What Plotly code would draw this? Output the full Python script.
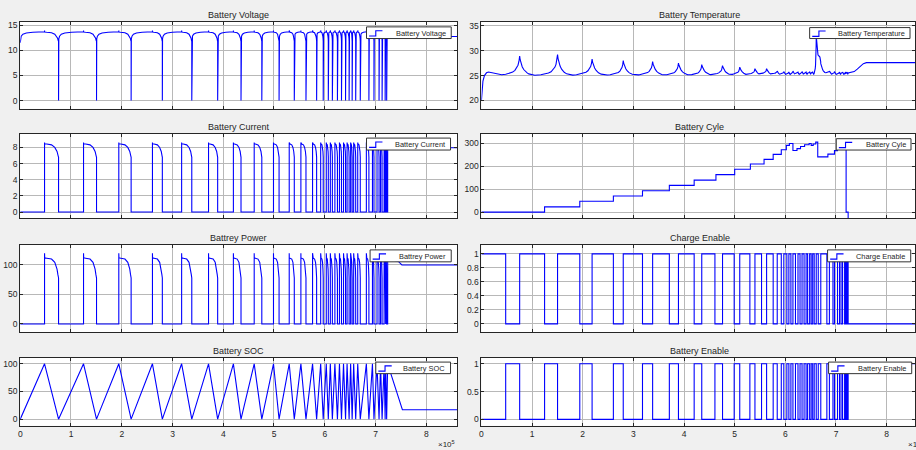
import numpy as np
import plotly.graph_objects as go

W, H = 916, 450

# ---------------- data (time axis in units of 1e5) ----------------
# Charge Enable switching instants; first edge = charge->discharge, then alternating
switch_t = [0.479, 0.755, 1.247, 1.503, 1.942, 2.185, 2.605, 2.80, 3.18, 3.38, 3.71, 3.89,
            4.20, 4.35, 4.61, 4.76, 4.99, 5.10, 5.30, 5.40, 5.53, 5.63, 5.76, 5.84,
            5.92, 5.97, 6.03, 6.07, 6.11, 6.15, 6.20, 6.25, 6.29, 6.33, 6.37, 6.41,
            6.44, 6.48, 6.51, 6.54, 6.57, 6.61, 6.65, 6.70, 6.82, 6.87, 6.94, 6.97,
            7.03, 7.07, 7.10, 7.13, 7.17, 7.19, 7.20, 7.22, 7.24]
t_end = 8.7

# discharge pulse shape of current (fraction of pulse -> A)
cur_frac = [0, 0.01, 0.16, 0.5, 0.73, 0.89, 0.98, 1.0]
cur_val = [8.6, 8.45, 8.42, 8.32, 8.0, 7.5, 6.9, 6.8]
cur_tail_t = [7.26, 7.5, t_end]
cur_tail_v = [8.4, 8.0, 7.95]

# discharge pulse shape of power
pow_frac = [0, 0.01, 0.16, 0.5, 0.73, 0.89, 0.95, 1.0]
pow_val = [120, 112, 111.5, 110, 104.5, 93, 84, 78]
pow_tail_t = [7.26, 7.45, 7.52, t_end]
pow_tail_v = [110, 106, 100, 100]

# voltage shape during charge / discharge
vch_frac = [0, 0.01, 0.04, 0.11, 0.25, 0.52, 1.0]
vch_val = [11.8, 12.3, 12.8, 13.2, 13.45, 13.6, 13.7]
vdis_frac = [0, 0.01, 0.15, 0.5, 0.73, 0.84, 0.93, 0.98, 1.0]
vdis_val = [13.95, 13.65, 13.6, 13.5, 13.2, 12.8, 12.4, 11.9, 11.8]
v_start = 11.5
v_tail_t = [7.26, 7.35, 7.45, 7.52, t_end]
v_tail_v = [13.6, 13.3, 12.9, 12.75, 12.75]

# SOC tail after last switch
soc_tail_t = [7.53, t_end]
soc_tail_v = [17, 17]

# temperature: peak at the end of every discharge
temp_peaks = [28.9, 29.2, 28.3, 28.0, 27.8, 27.5, 27.2, 27.0, 26.7, 26.4, 26.4, 25.9,
              25.8, 25.7, 25.9, 25.7, 25.8, 25.7, 25.8, 25.7, 33.0, 27.4, 25.9, 25.8,
              25.7, 25.7, 25.7, 25.7]
temp_start_t = [0, 0.015, 0.03, 0.06, 0.1, 0.14, 0.2, 0.3, 0.4]
temp_start_v = [20.0, 22.5, 23.9, 25.0, 25.55, 25.7, 25.6, 25.3, 25.15]
temp_base_frac = [0, 0.3, 0.6, 0.85, 1.0]
temp_base_val = [25.4, 25.15, 25.05, 25.15, 25.3]
temp_decay_dt = [0, 0.01, 0.025, 0.05, 0.08, 0.12, 0.18, 0.3]
temp_decay_frac = [1, 0.8, 0.6, 0.42, 0.27, 0.15, 0.06, 0]
temp_rise_t = [0, 0.3, 0.5, 0.66, 0.8, 0.88, 0.95, 1.0]
temp_rise_frac = [0, 0.05, 0.12, 0.22, 0.36, 0.5, 0.72, 1.0]
temp_tail_t = [7.30, 7.36, 7.42, 7.48, 7.54, 7.6, t_end]
temp_tail_v = [25.6, 25.8, 26.3, 26.9, 27.4, 27.6, 27.6]

# battery cycle count (step)
cycle_t = [0, 1.247, 1.942, 2.605, 3.18, 3.71, 4.20, 4.63, 5.0, 5.31, 5.58, 5.76, 5.92,
           6.02, 6.08, 6.15, 6.23, 6.30, 6.38, 6.47, 6.51, 6.55, 6.60, 6.64, 6.84, 6.97,
           7.03, 7.20, 7.24, t_end]
cycle_v = [0, 23, 47, 70, 93, 116, 139, 163, 186, 209, 229, 251, 271, 290, 298, 268,
           276, 285, 293, 298, 290, 296, 304, 240, 252, 267, 278, 0, -80, -80]

# ---------------- build series ----------------
off_t = switch_t[0::2]   # discharge starts
on_t = switch_t[1::2]    # discharge ends
n_off = len(off_t)

# enables
ce_x = [0] + switch_t + [t_end]
ce_y = [1] + [0 if i % 2 == 0 else 1 for i in range(len(switch_t))] + [0]
be_y = [1 - v for v in ce_y]

# SOC
soc_x = [0] + switch_t + soc_tail_t
soc_y = [0] + [100 if i % 2 == 0 else 0 for i in range(len(switch_t))] + soc_tail_v


def pulse_series(frac, vals, tail_t, tail_v):
    xs, ys = [0.0], [0.0]
    for k in range(n_off):
        a = off_t[k]
        xs.append(a); ys.append(0.0)
        if k < len(on_t):
            b = on_t[k]
            for f, v in zip(frac, vals):
                xs.append(a + f * (b - a)); ys.append(v)
            xs.append(b); ys.append(0.0)
        else:
            xs.append(a); ys.append(vals[0])
            xs += tail_t; ys += tail_v
    return xs, ys


cur_x, cur_y = pulse_series(cur_frac, cur_val, cur_tail_t, cur_tail_v)
pow_x, pow_y = pulse_series(pow_frac, pow_val, pow_tail_t, pow_tail_v)

# voltage
vx, vy = [], []
for k in range(n_off):
    c0 = 0.0 if k == 0 else on_t[k - 1]
    c1 = off_t[k]
    if k > 0:
        vx.append(c0); vy.append(0.0)
    for j, (f, v) in enumerate(zip(vch_frac, vch_val)):
        vx.append(c0 + f * (c1 - c0))
        vy.append(v_start if (k == 0 and j == 0) else v)
    if k < len(on_t):
        d1 = on_t[k]
        for f, v in zip(vdis_frac, vdis_val):
            vx.append(c1 + f * (d1 - c1)); vy.append(v)
    else:
        vx.append(c1); vy.append(vdis_val[0])
        vx += v_tail_t; vy += v_tail_v

# temperature
tx, ty = list(temp_start_t), list(temp_start_v)
t_prev = temp_start_v[-1]
for k in range(n_off):
    c1 = off_t[k]
    if k > 0:
        c0 = on_t[k - 1]
        p = temp_peaks[k - 1]
        knots = sorted(set([c0 + f * (c1 - c0) for f in temp_base_frac] +
                           [c0 + d for d in temp_decay_dt if d < c1 - c0]))
        for t in knots:
            f = (t - c0) / (c1 - c0)
            base = np.interp(f, temp_base_frac, temp_base_val)
            exc = (p - temp_base_val[0]) * np.interp(t - c0, temp_decay_dt, temp_decay_frac)
            tx.append(t); ty.append(float(base + exc))
        t_prev = ty[-1]
    else:
        tx.append(c1); ty.append(25.25); t_prev = 25.25
    if k < len(on_t):
        d1 = on_t[k]
        p = temp_peaks[k]
        for f, r in zip(temp_rise_t, temp_rise_frac):
            tx.append(c1 + f * (d1 - c1)); ty.append(t_prev + (p - t_prev) * r)
    else:
        tx += temp_tail_t; ty += temp_tail_v

# ---------------- figure ----------------
cols = [(18.3, 456.7, 8.61), (481.0, 916.0, 8.56)]
rows = [(20.0, 107.3), (132.3, 217.3), (244.0, 331.7), (357.3, 425.7)]

panels = [
    ("Battery Voltage", vx, vy, "linear", [-1.65, 15.65], [0, 5, 10, 15], (365.7, 450.7, 25.0, 36.7)),
    ("Battery Temperature", tx, ty, "linear", [18.3, 35.8], [20, 25, 30, 35], (810.3, 911.0, 25.7, 36.7)),
    ("Battery Current", cur_x, cur_y, "linear", [-0.78, 9.7], [0, 2, 4, 6, 8], (365.7, 450.0, 136.7, 148.7)),
    ("Battery Cyle", cycle_t, cycle_v, "hv", [-27, 340.7], [0, 100, 200, 300], (837.0, 912.0, 137.3, 148.7)),
    ("Battrey Power", pow_x, pow_y, "linear", [-14, 134], [0, 50, 100], (369.3, 450.7, 249.0, 261.0)),
    ("Charge Enable", ce_x, ce_y, "hv", [-0.12, 1.128], [0, 0.2, 0.4, 0.6, 0.8, 1], (828.3, 911.7, 249.0, 261.0)),
    ("Battery SOC", soc_x, soc_y, "linear", [-12, 111], [0, 50, 100], (375.0, 450.0, 361.7, 373.3)),
    ("Battery Enable", ce_x, be_y, "hv", [-0.115, 1.11], [0, 0.5, 1], (829.3, 912.7, 361.7, 373.3)),
]

FONT = "Liberation Sans, Arial, Helvetica, sans-serif"
TXT = "#262626"
fig = go.Figure()
layout = dict(width=W, height=H, margin=dict(l=0, r=0, t=0, b=0),
              paper_bgcolor="#f0f0f0", plot_bgcolor="white", showlegend=False,
              font=dict(family=FONT, size=9, color=TXT))
annotations, shapes = [], []


def px(x):
    return x / W


def py(y):
    return 1 - y / H


for i, (title, xs, ys, shape, yr, yt, box) in enumerate(panels):
    n = i + 1
    r, c = divmod(i, 2)
    x0, x1, xr = cols[c]
    top, bot = rows[r]
    xa = "xaxis" if n == 1 else f"xaxis{n}"
    ya = "yaxis" if n == 1 else f"yaxis{n}"
    common = dict(showline=True, linecolor=TXT, linewidth=1, mirror="ticks",
                  ticks="inside", ticklen=3, tickcolor=TXT, tickwidth=1,
                  showgrid=True, gridcolor="#b8b8b8", gridwidth=1, zeroline=False,
                  tickfont=dict(size=8.5, color=TXT, family=FONT))
    layout[xa] = dict(domain=[px(x0), px(x1)], range=[0, xr], tickvals=list(range(9)),
                      showticklabels=(r == 3), anchor=f"y{n}", **common)
    layout[ya] = dict(domain=[py(bot), py(top)], range=yr, tickvals=yt,
                      anchor=f"x{n}", **common)
    fig.add_trace(go.Scatter(x=xs, y=ys, mode="lines", line=dict(color="#0000ff", width=1.1, shape=shape),
                             xaxis=f"x{n}", yaxis=f"y{n}", hoverinfo="skip"))
    # title
    xc = (x0 + (x1 if c == 0 else 919.4)) / 2
    annotations.append(dict(text=title, x=px(xc), y=py(top - 6.8), xref="paper", yref="paper",
                            xanchor="center", yanchor="middle", showarrow=False,
                            font=dict(size=9, color=TXT, family=FONT)))
    # legend box
    bx0, bx1, by0, by1 = box
    yc = (by0 + by1) / 2
    shapes.append(dict(type="rect", xref="paper", yref="paper", x0=px(bx0), x1=px(bx1),
                       y0=py(by1), y1=py(by0), fillcolor="white",
                       line=dict(color="#333333", width=1), layer="above"))
    path = (f"M {px(bx0 + 2.6)},{py(yc + 3.3)} L {px(bx0 + 9.3)},{py(yc + 3.3)} "
            f"L {px(bx0 + 9.3)},{py(yc - 2.0)} L {px(bx0 + 16)},{py(yc - 2.0)}")
    shapes.append(dict(type="path", xref="paper", yref="paper", path=path,
                       line=dict(color="#0000ff", width=1.1), layer="above"))
    annotations.append(dict(text=title, x=px(bx1 - 3.5), y=py(yc + 0.3), xref="paper", yref="paper",
                            xanchor="right", yanchor="middle", showarrow=False,
                            font=dict(size=7.4, color=TXT, family=FONT)))

# exponent labels
for xr_px in (456.7, 927.7):
    annotations.append(dict(text="×10<sup>5</sup>", x=px(xr_px), y=py(444), xref="paper", yref="paper",
                            xanchor="right", yanchor="middle", showarrow=False,
                            font=dict(size=8, color=TXT, family=FONT)))

layout["annotations"] = annotations
layout["shapes"] = shapes
fig.update_layout(**layout)
fig.write_html("out.html", config={"displayModeBar": False},
               post_script="document.body.style.margin='0';document.body.style.padding='0';"
                           "document.body.style.overflow='hidden';")
